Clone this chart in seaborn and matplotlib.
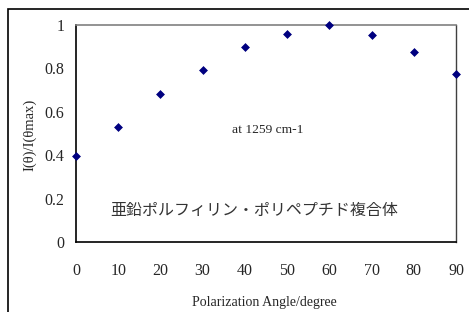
import matplotlib
matplotlib.use("Agg")
import matplotlib.pyplot as plt
import numpy as np
import pandas as pd
import seaborn as sns
from matplotlib.patches import Rectangle

# data
angles = [0, 10, 20, 30, 40, 50, 60, 70, 80, 90]
intensity = [0.396, 0.531, 0.681, 0.793, 0.897, 0.958, 1.0, 0.954, 0.877, 0.774]
x_ticks = [0, 10, 20, 30, 40, 50, 60, 70, 80, 90]
y_ticks = [0, 0.2, 0.4, 0.6, 0.8, 1]
y_ticklabels = ["0", "0.2", "0.4", "0.6", "0.8", "1"]

df = pd.DataFrame({"angle": angles, "ratio": intensity})

sns.set_style("white")
plt.rcParams['font.family'] = ['Liberation Serif', 'Noto Sans CJK JP']

fig = plt.figure(figsize=(4.69, 3.12), dpi=100)
ax = fig.add_axes([76/469, 1 - 242/312, (456 - 76)/469, (242 - 25)/312])

sns.scatterplot(data=df, x="angle", y="ratio", ax=ax, marker="D", s=16,
                color="#000080", edgecolor="#000080", linewidth=0.5,
                clip_on=False, zorder=5)

ax.set_xlim(0, 90)
ax.set_ylim(0, 1)
ax.set_xticks(x_ticks)
ax.set_yticks(y_ticks)
ax.set_yticklabels(y_ticklabels)
ax.tick_params(axis="both", direction="in", length=4, width=0.8,
               labelsize=11.5, color="black")
ax.tick_params(axis="x", pad=15)
ax.tick_params(axis="y", pad=8.5)

for side in ["left", "bottom"]:
    ax.spines[side].set_color("black")
    ax.spines[side].set_linewidth(1.2)
ax.spines["top"].set_color("#808080")
ax.spines["top"].set_linewidth(1.2)
ax.spines["right"].set_color("#404040")
ax.spines["right"].set_linewidth(1.0)

ax.set_xlabel("Polarization Angle/degree", fontsize=10, va="center", ha="center")
ax.set_ylabel("I(θ)/I(θmax)", fontsize=10.5, va="center", ha="center")
ax.xaxis.set_label_coords(0.497, -0.2765)
ax.yaxis.set_label_coords(-0.121, 0.493)

ax.text(37.0, 0.515, "at 1259 cm-1", fontsize=9.7, va="center", ha="left")
ax.text(8.0, 0.143, "亜鉛ポルフィリン・ポリペプチド複合体", fontsize=11.5,
        va="center", ha="left", family=["Noto Sans CJK JP"], color="#333333")

# outer chart frame (clipped at right/bottom edge like the original)
fig.patches.append(Rectangle((8/469, -0.05), 1.2, 1 - 9/312 + 0.05,
                             transform=fig.transFigure, fill=False,
                             edgecolor="black", linewidth=1.2))

fig.savefig("out.png", dpi=100)
